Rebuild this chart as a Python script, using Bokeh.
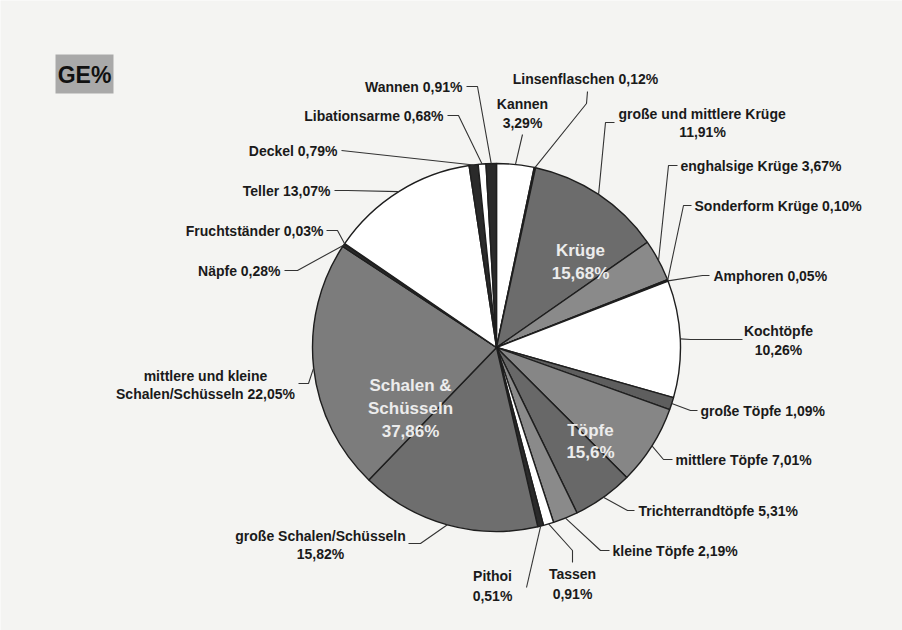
import math
from bokeh.plotting import figure
from bokeh.models import Range1d
from bokeh.core.properties import value
from bokeh.embed import file_html
from bokeh.resources import INLINE

# ---------------- data ----------------
categories = [
    "Kannen", "Linsenflaschen", "große und mittlere Krüge", "enghalsige Krüge",
    "Sonderform Krüge", "Amphoren", "Kochtöpfe", "große Töpfe", "mittlere Töpfe",
    "Trichterrandtöpfe", "kleine Töpfe", "Tassen", "Pithoi",
    "große Schalen/Schüsseln", "mittlere und kleine Schalen/Schüsseln", "Näpfe",
    "Fruchtständer", "Teller", "Deckel", "Libationsarme", "Wannen",
]
shares = [3.29, 0.12, 11.91, 3.67, 0.10, 0.05, 10.26, 1.09, 7.01, 5.31, 2.19,
          0.91, 0.51, 15.82, 22.05, 0.28, 0.03, 13.07, 0.79, 0.68, 0.91]
label_texts = [
    ["Kannen", "3,29%"], ["Linsenflaschen 0,12%"],
    ["große und mittlere Krüge", "11,91%"], ["enghalsige Krüge 3,67%"],
    ["Sonderform Krüge 0,10%"], ["Amphoren 0,05%"], ["Kochtöpfe", "10,26%"],
    ["große Töpfe 1,09%"], ["mittlere Töpfe 7,01%"], ["Trichterrandtöpfe 5,31%"],
    ["kleine Töpfe 2,19%"], ["Tassen", "0,91%"], ["Pithoi", "0,51%"],
    ["große Schalen/Schüsseln", "15,82%"],
    ["mittlere und kleine", "Schalen/Schüsseln 22,05%"], ["Näpfe 0,28%"],
    ["Fruchtständer 0,03%"], ["Teller 13,07%"], ["Deckel 0,79%"],
    ["Libationsarme 0,68%"], ["Wannen 0,91%"],
]
group_labels = [["Krüge", "15,68%"], ["Schalen &", "Schüsseln", "37,86%"], ["Töpfe", "15,6%"]]
title_text = "GE%"

# ---------------- styles / layout ----------------
fills = ["#ffffff", "#333333", "#6c6c6c", "#8a8a8a", "#333333", "#555555", "#ffffff",
         "#5e5e5e", "#868686", "#686868", "#8a8a8a", "#ffffff", "#2a2a2a",
         "#6e6e6e", "#7c7c7c", "#2a2a2a", "#333333", "#ffffff", "#2a2a2a",
         "#ffffff", "#2a2a2a"]
CX, CY, R = 496, 347, 184   # pixel coordinates of pie (image space)
W, H = 902, 630

def Y(img_y):
    return H - img_y

# (text positions per line, align, leader path from label toward pie) in image pixels
label_layout = [
    ([(522, 103), (522, 122)], "center", [(522, 134)]),
    ([(585, 78)], "center", [(587, 91), (586, 103)]),
    ([(618, 113), (702, 131)], "left", [(614, 122), (605, 122)]),
    ([(680, 165)], "left", [(677, 165), (668, 165)]),
    ([(694, 205)], "left", [(691, 205), (683, 205)]),
    ([(713, 275)], "left", [(709, 275), (702, 275)]),
    ([(778, 330), (778, 349)], "center", [(742, 339), (690, 339)]),
    ([(700, 410)], "left", [(697, 410), (690, 410)]),
    ([(675, 459)], "left", [(672, 459), (663, 459)]),
    ([(638, 510)], "left", [(634, 510), (627, 510)]),
    ([(612, 550)], "left", [(609, 550), (600, 550)]),
    ([(572, 573), (572, 593)], "center", [(572, 562), (572, 550)]),
    ([(492, 575), (492, 595)], "center", [(526, 587)]),
    ([(320, 535), (320, 553)], "center", [(408, 543), (420, 543)]),
    ([(205, 375), (205, 393)], "center", [(298, 383), (308, 383)]),
    ([(280, 270)], "right", [(284, 270), (297, 270)]),
    ([(323, 230)], "right", [(326, 230), (337, 230)]),
    ([(330, 190)], "right", [(334, 190), (347, 190)]),
    ([(337, 150)], "right", [(341, 150)]),
    ([(443, 115)], "right", [(447, 115), (458, 115)]),
    ([(462, 86)], "right", [(466, 86), (477, 86)]),
]
group_layout = [[(580, 250), (580, 273)], [(410, 385), (410, 408), (410, 431)], [(590, 430), (590, 452)]]

# ---------------- figure ----------------
p = figure(width=W, height=H, x_range=Range1d(0, W), y_range=Range1d(0, H),
           output_backend="svg", toolbar_location=None, min_border=0)
p.axis.visible = False
p.grid.visible = False
p.outline_line_color = None
p.background_fill_color = "#f4f4f2"
p.border_fill_color = "#f4f4f2"

total = sum(shares)
starts, ends, mids = [], [], []
cum = 0.0
for s in shares:
    f0 = cum / total
    cum += s
    f1 = cum / total
    starts.append(math.pi / 2 - 2 * math.pi * f0)
    ends.append(math.pi / 2 - 2 * math.pi * f1)
    mids.append((f0 + f1) / 2)

p.wedge(x=[CX] * len(shares), y=[Y(CY)] * len(shares), radius=R,
        start_angle=starts, end_angle=ends, direction="clock",
        fill_color=fills, line_color="#1e1e1e", line_width=1.4)

# leader lines
xs, ys = [], []
for frac, (pos, align, path) in zip(mids, label_layout):
    a = 2 * math.pi * frac
    ax = CX + R * math.sin(a)
    ay = CY - R * math.cos(a)
    pts = path + [(ax, ay)]
    xs.append([q[0] for q in pts])
    ys.append([Y(q[1]) for q in pts])
p.multi_line(xs=xs, ys=ys, line_color="#333333", line_width=1.1)

# outer labels
for texts, (pos, align, path) in zip(label_texts, label_layout):
    for i, (t, (tx, ty)) in enumerate(zip(texts, pos)):
        al = align
        if len(texts) == 2 and align == "left" and i == 1:
            al = "center"
        p.text(x=[tx], y=[Y(ty)], text=[t], text_align=al, text_baseline="middle",
               text_font=value("Liberation Sans"), text_font_style="bold",
               text_font_size="14px", text_color="#1a1a1a")

# group labels inside pie
for texts, pos in zip(group_labels, group_layout):
    for t, (tx, ty) in zip(texts, pos):
        p.text(x=[tx], y=[Y(ty)], text=[t], text_align="center", text_baseline="middle",
               text_font=value("Liberation Sans"), text_font_style="bold",
               text_font_size="17px", text_color="#ececec")

# title box
p.quad(left=[55], right=[113], top=[Y(54)], bottom=[Y(93)],
       fill_color="#a9a9a9", line_color=None)
p.text(x=[84], y=[Y(74)], text=[title_text], text_align="center", text_baseline="middle",
       text_font=value("Liberation Sans"), text_font_style="bold",
       text_font_size="23px", text_color="#111111")

open("out.html", "w").write(file_html(p, INLINE))
